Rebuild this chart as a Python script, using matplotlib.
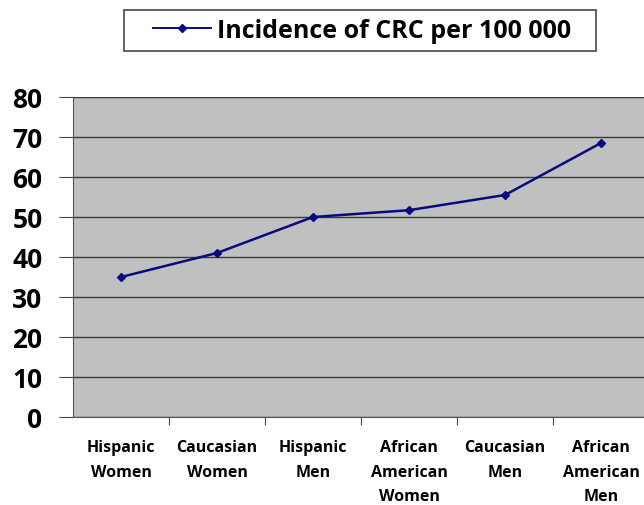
import matplotlib.pyplot as plt
from matplotlib.lines import Line2D
from matplotlib.patches import Rectangle

groups = ["Hispanic\nWomen", "Caucasian\nWomen", "Hispanic\nMen",
          "African\nAmerican\nWomen", "Caucasian\nMen", "African\nAmerican\nMen"]
incidence = [35, 41, 50, 51.7, 55.5, 68.5]
yticks = [0, 10, 20, 30, 40, 50, 60, 70, 80]

plt.rcParams['font.family'] = ['Open Sans', 'DejaVu Sans']

fig = plt.figure(figsize=(6.44, 5.06), dpi=100)
# plot area runs slightly past the right edge
ax = fig.add_axes([73 / 644, 1 - 418 / 506, 576 / 644, 320 / 506])
ax.set_facecolor('#c0c0c0')

x = range(len(groups))
ax.plot(x, incidence, color='#0a0a80', lw=1.8, marker='D', ms=4.5,
        label='Incidence of CRC per 100 000')

ax.set_xlim(-0.5, len(groups) - 0.5)
ax.set_ylim(0, 80)
ax.set_yticks(yticks)
ax.set_yticklabels([str(v) for v in yticks], fontsize=19, fontweight='bold')
ax.yaxis.grid(True, color='#3a3a3a', lw=1)
ax.set_axisbelow(True)

# category labels between boundary ticks
ax.set_xticks([i + 0.5 for i in range(len(groups) - 1)])
ax.set_xticklabels([])
ax.set_xticks(list(x), minor=True)
ax.set_xticklabels(groups, minor=True, fontsize=11.5, fontweight='bold',
                   linespacing=1.7, va='top')
ax.tick_params(axis='x', which='major', length=6, color='#444444')
ax.tick_params(axis='x', which='minor', length=0, pad=16)
ax.tick_params(axis='y', length=10, color='#444444', pad=12)

for s in ['top', 'right']:
    ax.spines[s].set_visible(False)
ax.spines['left'].set_color('#555555')
ax.spines['bottom'].set_color('#555555')

# legend box
fig.patches.append(Rectangle((124 / 644, 1 - 52 / 506), 472 / 644, 41 / 506,
                             transform=fig.transFigure, fill=False,
                             edgecolor='#555555', lw=1.3))
handle = Line2D([], [], color='#0a0a80', lw=1.4, marker='D', ms=4.5)
fig.legend([handle], ['Incidence of CRC per 100 000'],
           loc='center', bbox_to_anchor=(362 / 644, 1 - 31 / 506),
           frameon=False, handlelength=2.3, handletextpad=0.25,
           prop={'size': 18, 'weight': 'bold'})

fig.savefig('out.png', dpi=100)
